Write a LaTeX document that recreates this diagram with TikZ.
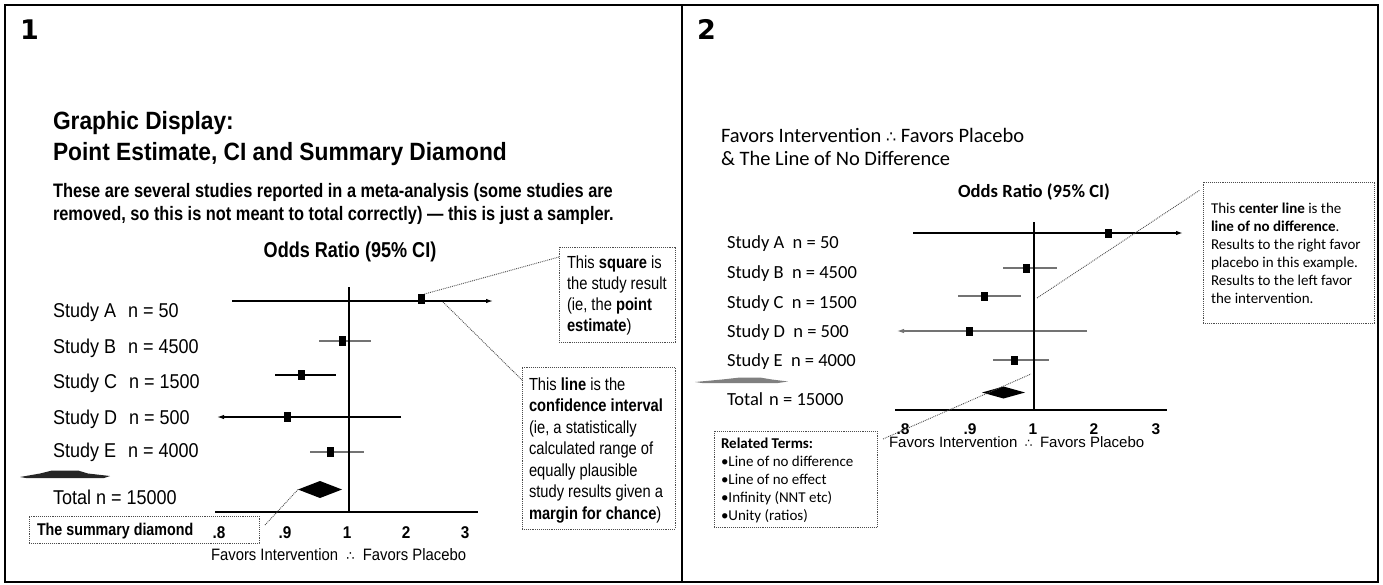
\documentclass[tikz,border=0pt]{standalone}
\usepackage{fontspec}
\setmainfont{Liberation Sans}
\newfontfamily\nA[FakeStretch=0.91]{Liberation Sans}
\newfontfamily\nB[FakeStretch=0.84]{Liberation Sans}
\newfontfamily\nC[FakeStretch=0.90]{Liberation Sans}
\newfontfamily\carl{Carlito}
\newfontfamily\dvs{DejaVu Sans}
\usetikzlibrary{arrows.meta,calc}
\newcommand\fz[2]{\fontsize{#1}{#2}\selectfont}
\newcommand\thr{{\dvs ∴}}
\tikzset{
  txt/.style={anchor=base west, inner sep=0pt, outer sep=0pt},
  ctxt/.style={anchor=base, inner sep=0pt, outer sep=0pt},
  dbox/.style={draw=black!70, densely dotted, line width=0.9pt, anchor=north west, inner sep=0pt, outer sep=0pt},
  dcon/.style={draw=black!70, densely dotted, line width=0.9pt},
  ciblack/.style={draw=black, line width=1.3pt},
  cigray/.style={draw=black!55, line width=1.3pt},
  pest/.style={fill=black, minimum width=7pt, minimum height=10pt, inner sep=0pt, outer sep=0pt},
  pest2/.style={fill=black, minimum width=7pt, minimum height=9pt, inner sep=0pt, outer sep=0pt},
  nodiff/.style={draw=black, line width=2.5pt},
  axisline/.style={draw=black, line width=1.3pt},
  tipR/.style={-{Latex[length=7pt,width=4.5pt]}},
  frame/.style={draw=black, line width=2.5pt}
}
\begin{document}
\begin{tikzpicture}[x=1pt,y=-1pt]
\useasboundingbox (0,0) rectangle (1383,584);
% frames
\draw[frame] (5,5) rectangle (1378,582);
\draw[frame] (682,5) -- (682,582);
\node[txt] (n1) at (20,39) {\dvs\bfseries\fz{27}{30}1};
\node[txt] (n2) at (697,39) {\dvs\bfseries\fz{27}{30}2};

% ================= PANEL 1 =================
\node[txt] (ti1) at (53,129) {\nA\bfseries\fz{25}{30}Graphic Display:};
\node[txt] (ti2) at (53,160) {\nA\bfseries\fz{25}{30}Point Estimate, CI and Summary Diamond};
\node[txt] (bo1) at (53,197) {\nB\bfseries\fz{19.5}{23}These are several studies reported in a meta-analysis (some studies are};
\node[txt] (bo2) at (53,220) {\nB\bfseries\fz{19.5}{23}removed, so this is not meant to total correctly) — this is just a sampler.};
\node[ctxt] (or1) at (350,257) {\nB\bfseries\fz{21.5}{25}Odds Ratio (95\% CI)};

\node[txt] (sA) at (53,317) {\nC\fz{20}{24}Study A\hspace{0.6em}n = 50};
\node[txt] (sB) at (53,353) {\nC\fz{20}{24}Study B\hspace{0.6em}n = 4500};
\node[txt] (sC) at (53,388) {\nC\fz{20}{24}Study C\hspace{0.6em}n = 1500};
\node[txt] (sD) at (53,424) {\nC\fz{20}{24}Study D\hspace{0.6em}n = 500};
\node[txt] (sE) at (53,457) {\nC\fz{20}{24}Study E\hspace{0.6em}n = 4000};
\node[txt] (sT) at (53,504) {\nC\fz{20}{24}Total n = 15000};

% blur shape
\fill[black!85] (20,477) -- (40,473.5) -- (52,470.5) -- (78,470.5) -- (88,473.5) -- (110,476) -- (104,478) -- (26,478) -- cycle;

% CI lines
\draw[ciblack,tipR] (232,301) -- (493,301);
\draw[cigray] (319,341) -- (371,341);
\draw[ciblack] (275,375) -- (336,375);
\draw[ciblack,tipR] (401,417) -- (217,417);
\draw[cigray] (310,452) -- (364,452);
\draw[nodiff] (349,287) -- (349,512);
\draw[axisline] (215,512) -- (478,512);
\node[pest] (pA) at (421,299) {};
\node[pest] (pB) at (342,341) {};
\node[pest] (pC) at (301,375) {};
\node[pest] (pD) at (287,417) {};
\node[pest] (pE) at (330,452) {};
\coordinate (dmL) at (298,489.5);
\fill[black] (dmL) -- (320,481) -- (342,489.5) -- (320,498) -- cycle;

\node[ctxt] (k1) at (219,538) {\nC\bfseries\fz{17}{20}.8};
\node[ctxt] (k2) at (285,538) {\nC\bfseries\fz{17}{20}.9};
\node[ctxt] (k3) at (347,538) {\nC\bfseries\fz{17}{20}1};
\node[ctxt] (k4) at (406,538) {\nC\bfseries\fz{17}{20}2};
\node[ctxt] (k5) at (465,538) {\nC\bfseries\fz{17}{20}3};
\node[txt] (fv1) at (211,560) {\nC\fz{16.5}{20}Favors Intervention\hspace{0.5em}{\fz{13}{16}\thr}\hspace{0.5em}Favors Placebo};

% callouts
\node[dbox, minimum width=116pt, minimum height=95pt] (sqbox) at (559,247) {};
\node[txt] (sqtxt) at (567,268) {\vtop{\nB\fz{17.5}{21.3}\lineskiplimit=-30pt
  \hbox{This \textbf{square} is}\hbox{the study result}\hbox{(ie, the \textbf{point}}\hbox{\textbf{estimate})}}};
\node[dbox, minimum width=153pt, minimum height=162pt] (libox) at (522,367) {};
\node[txt] (litxt) at (529,390) {\vtop{\nB\fz{17.5}{21.5}\lineskiplimit=-30pt
  \hbox{This \textbf{line} is the}\hbox{\textbf{confidence interval}}\hbox{(ie, a statistically}\hbox{calculated range of}\hbox{equally plausible}\hbox{study results given a}\hbox{\textbf{margin for chance})}}};
\node[dbox, minimum width=230pt, minimum height=27pt] (smbox) at (29,516) {};
\node[txt] (smtxt) at (37,535) {\nB\bfseries\fz{17}{20}The summary diamond};

\coordinate (cA) at (443,302);
\coordinate (smE) at (265,525);
\draw[dcon] (pA.north east) -- ($(sqbox.north west)+(0,10)$);
\draw[dcon] (cA) -- ($(libox.north west)+(0,13)$);
\draw[dcon] (smE) -- (dmL);

% ================= PANEL 2 =================
\node[txt] (h1) at (721,142) {\carl\fz{20.5}{23}Favors Intervention {\fz{16}{18}\thr} Favors Placebo};
\node[txt] (h2) at (721,165) {\carl\fz{20.5}{23}\& The Line of No Difference};
\node[ctxt] (or2) at (1034,197) {\carl\bfseries\fz{18.6}{22}Odds Ratio (95\% CI)};

\node[txt] (qA) at (727,248) {\carl\fz{18.5}{22}Study A\hspace{0.45em}n = 50};
\node[txt] (qB) at (727,278) {\carl\fz{18.5}{22}Study B\hspace{0.45em}n = 4500};
\node[txt] (qC) at (727,308) {\carl\fz{18.5}{22}Study C\hspace{0.45em}n = 1500};
\node[txt] (qD) at (727,337) {\carl\fz{18.5}{22}Study D\hspace{0.45em}n = 500};
\node[txt] (qE) at (727,366) {\carl\fz{18.5}{22}Study E\hspace{0.45em}n = 4000};
\node[txt] (qT) at (727,405) {\carl\fz{18.5}{22}Total\hspace{0.1em} n = 15000};

\fill[black!50] (695,382) -- (722,379.5) -- (740,377.5) -- (760,377.5) -- (772,379.5) -- (788,381.5) -- (778,383) -- (702,383) -- cycle;

\draw[ciblack,line width=1.5pt,tipR] (913,233) -- (1183,233);
\draw[cigray,line width=1.1pt] (1003,268) -- (1057,268);
\draw[cigray,line width=1.1pt] (958,296) -- (1021,296);
\draw[cigray,line width=1.1pt,tipR] (1087,331) -- (897,331);
\draw[cigray,line width=1.1pt] (993,360) -- (1049,360);
\draw[nodiff] (1034,222) -- (1034,410);
\draw[axisline] (895,410) -- (1167,410);
\node[pest2] (rA) at (1108,233) {};
\node[pest2] (rB) at (1026,268) {};
\node[pest2] (rC) at (984,296) {};
\node[pest2] (rD) at (969,331) {};
\node[pest2] (rE) at (1014,360) {};
\fill[black] (982,392.5) -- (1003.5,386.5) -- (1025,392.5) -- (1003.5,398.5) -- cycle;

\node[ctxt] (m1) at (903,434) {\bfseries\fz{15.5}{18}.8};
\node[ctxt] (m2) at (970,434) {\bfseries\fz{15.5}{18}.9};
\node[ctxt] (m3) at (1033,434) {\bfseries\fz{15.5}{18}1};
\node[ctxt] (m4) at (1094,434) {\bfseries\fz{15.5}{18}2};
\node[ctxt] (m5) at (1156,434) {\bfseries\fz{15.5}{18}3};
\node[txt] (fv2) at (889,447) {\fz{15}{18}Favors Intervention\hspace{0.5em}{\fz{12}{14}\thr}\hspace{0.5em}Favors Placebo};

\node[dbox, minimum width=171pt, minimum height=141pt] (clbox) at (1203,182) {};
\node[txt] (cltxt) at (1211,213) {\vtop{\carl\fz{15}{18}\lineskiplimit=-30pt
  \hbox{This \textbf{center line} is the}\hbox{\textbf{line of no difference}.}\hbox{Results to the right favor}\hbox{placebo in this example.}\hbox{Results to the left favor}\hbox{the intervention.}}};
\node[dbox, minimum width=163pt, minimum height=96pt] (rtbox) at (714,431) {};
\node[txt] (rttxt) at (721,448) {\vtop{\carl\fz{15}{18}\lineskiplimit=-30pt
  \hbox{\textbf{Related Terms:}}\hbox{•Line of no difference}\hbox{•Line of no effect}\hbox{•Infinity (NNT etc)}\hbox{•Unity (ratios)}}};

\coordinate (cl1) at (1037,298);
\coordinate (cl2) at (883,439);
\coordinate (cl3) at (1031,374);
\draw[dcon] (cl1) -- ($(clbox.north west)+(-3,8)$);
\draw[dcon] (cl2) -- (cl3);
\end{tikzpicture}
\end{document}
